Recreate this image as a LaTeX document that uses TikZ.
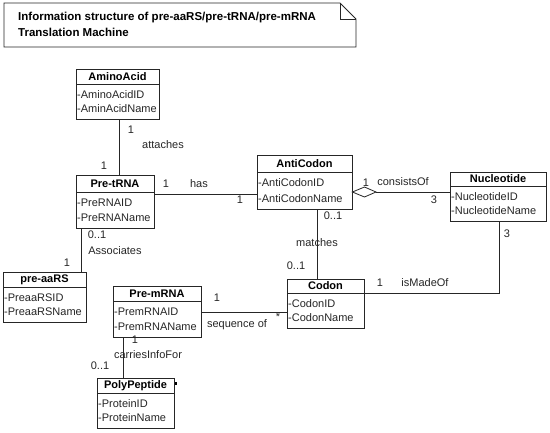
\documentclass[tikz,border=0pt]{standalone}
\usepackage{fontspec}
\setmainfont{Liberation Sans}
\usetikzlibrary{fit,calc}
\tikzset{
  clsbox/.style={draw=black!85, line width=0.8pt, inner sep=0pt, fill=white},
  hdr/.style={font=\bfseries\fontsize{11}{13}\selectfont, inner sep=0pt},
  attr/.style={font=\fontsize{11}{13}\selectfont, inner sep=0pt, anchor=west, text=black!85},
  lbl/.style={font=\fontsize{11}{13}\selectfont, inner sep=0pt, text=black!85},
  conn/.style={draw=black!85, line width=0.8pt},
  ttl/.style={font=\bfseries\fontsize{11.5}{13}\selectfont, anchor=west, inner sep=0pt},
}
\newcommand\umlclass[9]{%
  \node[clsbox, fit={(#2,#3) (#4,#5)}] (#1) {};
  \draw[conn] (#2,#6) -- (#4,#6);
  \node[hdr] (#1-t) at ({(#2+#4)/2},{(#3+#6)/2}) {#7};
  \node[attr] (#1-a) at ({#2+1},{#6+11}) {-#8};
  \node[attr] (#1-b) at ({#2+1},{#5-10}) {-#9};
}
\begin{document}
\begin{tikzpicture}[x=1pt,y=-1pt]
\useasboundingbox[fill=white] (0,0) rectangle (550,432);
% title note
\draw[conn] (4,3) -- (340,3) -- (356,19) -- (356,47) -- (4,47) -- cycle;
\draw[conn] (340,3) -- (340,19) -- (356,19);
\node[ttl] (ttl1) at (18,18) {Information structure of pre-aaRS/pre-tRNA/pre-mRNA};
\node[ttl] (ttl2) at (18,32) {Translation Machine};

% classes
\umlclass{amino}{76}{69}{159}{119}{84}{AminoAcid}{AminoAcidID}{AminAcidName}
\umlclass{trna}{76}{175}{154}{228}{192}{Pre-tRNA}{PreRNAID}{PreRNAName}
\umlclass{anti}{257}{155}{352}{209}{172}{AntiCodon}{AntiCodonID}{AntiCodonName}
\umlclass{nuc}{450}{172}{546}{221}{186}{Nucleotide}{NucleotideID}{NucleotideName}
\umlclass{codon}{287}{279}{364}{328}{293}{Codon}{CodonID}{CodonName}
\umlclass{mrna}{113}{286}{201}{337}{301}{Pre-mRNA}{PremRNAID}{PremRNAName}
\umlclass{poly}{97}{378}{174}{428}{393}{PolyPeptide}{ProteinID}{ProteinName}
\umlclass{aars}{3}{272}{86}{322}{287}{pre-aaRS}{PreaaRSID}{PreaaRSName}

% attaches
\draw[conn] (amino.south -| 119,0) -- (trna.north -| 119,0);
\node[lbl] (l1) at (131,130) {1};
\node[lbl] (l2) at (163,145) {attaches};
\node[lbl] (l3) at (104,166) {1};

% has
\draw[conn] (trna.east |- 0,194) -- (anti.west |- 0,194);
\node[lbl] (l4) at (166,184) {1};
\node[lbl] (l5) at (199,184) {has};
\node[lbl] (l6) at (240,200) {1};

% consistsOf (aggregation)
\coordinate (dtip) at (376,192);
\draw[conn, fill=white] (anti.east |- 0,192) -- (364.5,187) -- (dtip) -- (364.5,197) -- cycle;
\draw[conn] (dtip) -- (nuc.west |- dtip);
\node[lbl] (l7) at (366,183) {1};
\node[lbl] (l8) at (403,182) {consistsOf};
\node[lbl] (l9) at (434,200) {3};

% matches
\draw[conn] (anti.south -| 317,0) -- (codon.north -| 317,0);
\node[lbl] (l10) at (333,216) {0..1};
\node[lbl] (l11) at (317,243) {matches};
\node[lbl] (l12) at (296,266) {0..1};

% isMadeOf
\coordinate (bend) at (499,293);
\draw[conn] (nuc.south -| bend) -- (bend) -- (codon.east |- bend);
\node[lbl] (l13) at (507,234) {3};
\node[lbl] (l14) at (380,283) {1};
\node[lbl] (l15) at (425,283) {isMadeOf};

% sequence of
\draw[conn] (mrna.east |- 0,312) -- (codon.west |- 0,312);
\node[lbl] (l16) at (217,298) {1};
\node[lbl] (l17) at (237,325) {sequence of};
\node[lbl] (l18) at (278,317) {*};

% carriesInfoFor
\draw[conn] (mrna.south -| 123,0) -- (poly.north -| 123,0);
\node[lbl] (l19) at (135,340) {1};
\node[lbl] (l20) at (148,355) {carriesInfoFor};
\node[lbl] (l21) at (100,366) {0..1};
\fill[black] (175,382) rectangle (177,385);

% Associates
\draw[conn] (trna.south -| 81,0) -- (aars.north -| 81,0);
\node[lbl] (l22) at (97,235) {0..1};
\node[lbl] (l23) at (115,251) {Associates};
\node[lbl] (l24) at (67,263) {1};
\end{tikzpicture}
\end{document}
